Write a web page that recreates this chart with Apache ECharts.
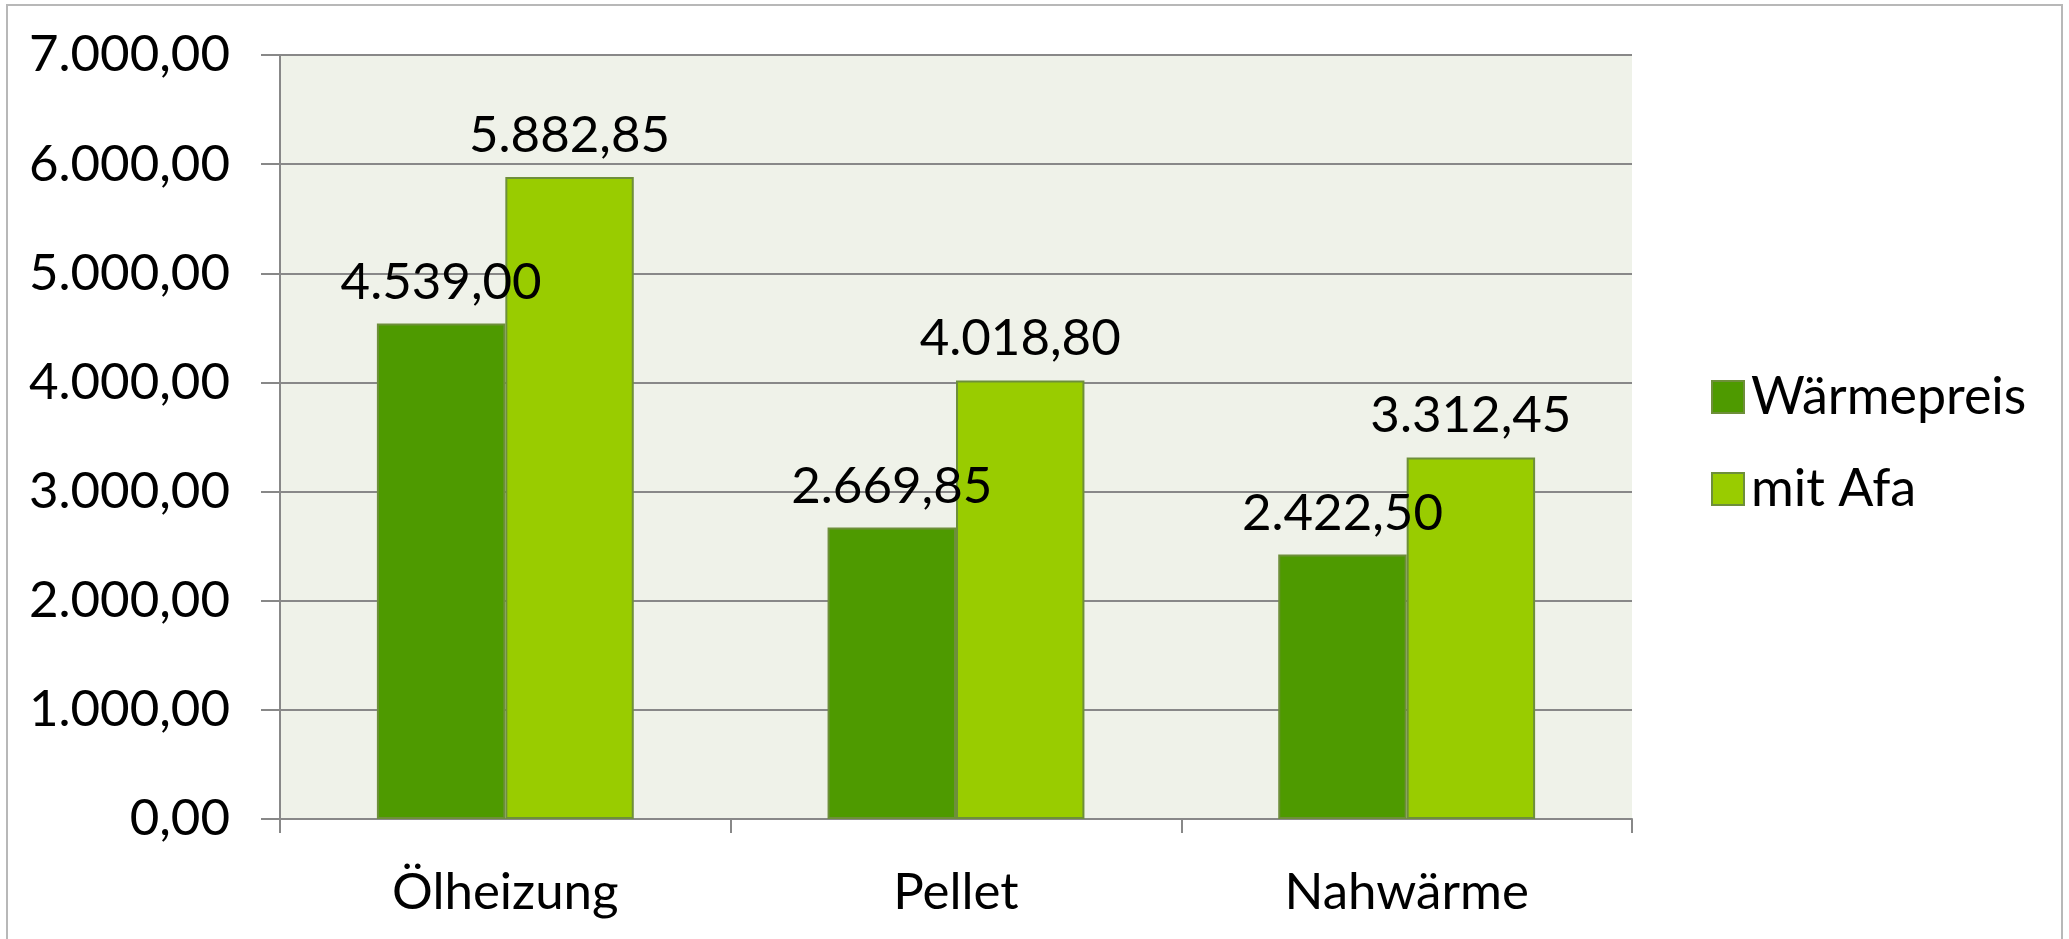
<!DOCTYPE html>
<html>
<head>
<meta charset="utf-8">
<script src="https://cdn.jsdelivr.net/npm/echarts@6/dist/echarts.min.js"></script>
<style>
  html, body { margin: 0; padding: 0; background: #fff; }
  #chart { width: 2069px; height: 939px; }
</style>
</head>
<body>
<div id="chart"></div>
<script>
var categories = ['Ölheizung', 'Pellet', 'Nahwärme'];
var waermepreis = [4539.00, 2669.85, 2422.50];
var mitAfa = [5882.85, 4018.80, 3312.45];
var seriesNames = ['Wärmepreis', 'mit Afa'];

var FONT = 'Lato';

// German number format: 4.539,00
function fmtDe(v) {
  var parts = Number(v).toFixed(2).split('.');
  var intPart = parts[0].replace(/\B(?=(\d{3})+(?!\d))/g, '.');
  return intPart + ',' + parts[1];
}

var chart = echarts.init(document.getElementById('chart'), null, { renderer: 'canvas' });

var labelStyle = {
  show: true,
  position: 'top',
  distance: 16,
  color: '#000',
  fontFamily: FONT,
  fontSize: 51,
  formatter: function (p) { return fmtDe(p.value); }
};

chart.setOption({
  animation: false,
  backgroundColor: '#fff',
  graphic: [{
    type: 'rect',
    silent: true,
    shape: { x: 7, y: 5, width: 2055, height: 960 },
    style: { fill: 'none', stroke: '#b8b8b8', lineWidth: 2 }
  }],
  grid: {
    left: 280,
    right: 437,
    top: 55,
    bottom: 120,
    show: true,
    backgroundColor: '#EFF2E9',
    borderWidth: 0
  },
  legend: {
    orient: 'vertical',
    left: 1706,
    top: 366,
    itemWidth: 32,
    itemHeight: 32,
    itemGap: 40,
    icon: 'rect',
    textStyle: { fontFamily: FONT, fontSize: 52, color: '#000', padding: [0, 0, 0, 2] },
    data: seriesNames
  },
  xAxis: {
    type: 'category',
    data: categories,
    axisLine: { show: true, lineStyle: { color: '#888', width: 2 } },
    axisTick: { show: true, length: 14, alignWithLabel: false, lineStyle: { color: '#888', width: 2 } },
    axisLabel: { fontFamily: FONT, fontSize: 51, color: '#000', margin: 48 },
    splitLine: { show: false }
  },
  yAxis: {
    type: 'value',
    min: 0,
    max: 7000,
    interval: 1000,
    axisLine: { show: true, lineStyle: { color: '#888', width: 2 } },
    axisTick: { show: true, length: 19, lineStyle: { color: '#888', width: 2 } },
    axisLabel: {
      fontFamily: FONT, fontSize: 51, color: '#000', margin: 50,
      formatter: function (v) { return fmtDe(v); }
    },
    splitLine: { show: true, lineStyle: { color: '#888', width: 2 } }
  },
  series: [{
    name: seriesNames[0],
    type: 'bar',
    data: waermepreis,
    barGap: '0%',
    barCategoryGap: '43%',
    itemStyle: { color: '#4E9A00', borderColor: '#6E8F3A', borderWidth: 2 },
    label: labelStyle
  }, {
    name: seriesNames[1],
    type: 'bar',
    data: mitAfa,
    barGap: '0%',
    barCategoryGap: '43%',
    itemStyle: { color: '#99CC00', borderColor: '#6E8F3A', borderWidth: 2 },
    label: labelStyle
  }]
});
</script>
</body>
</html>
